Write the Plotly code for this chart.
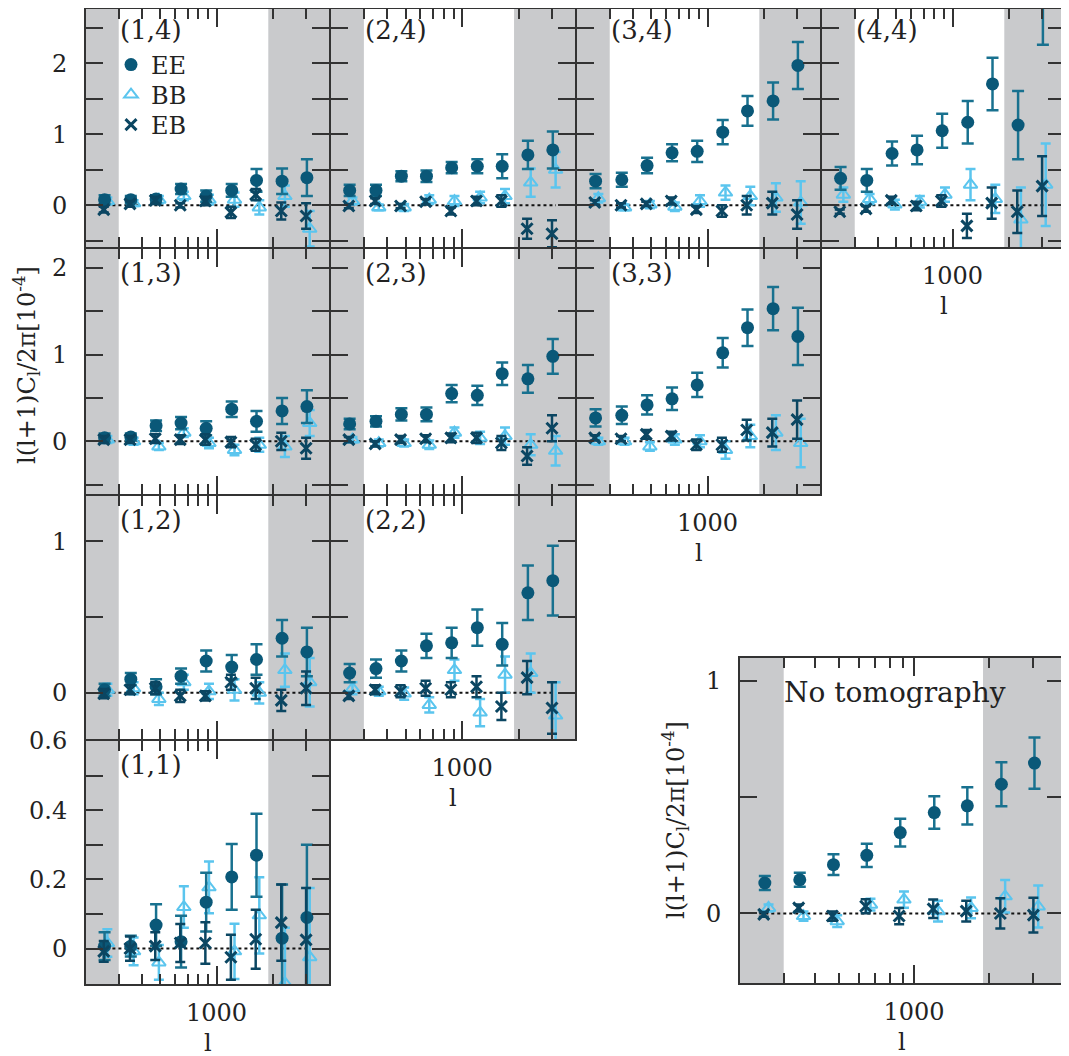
import math
import plotly.graph_objects as go

# the page body adds an 8 px margin, so the figure is drawn 8 px smaller and
# every reference pixel position is shifted by OFF
OFF = 8
W, H = 1069 - OFF, 1056 - OFF
FONT = "DejaVu Serif"

# multipole bin centres
ell = [252, 348, 475, 646, 880, 1205, 1635, 2240, 3040]

# ---- panel (1,4)
ee_14 = [0.08, 0.08, 0.09, 0.23, 0.13, 0.21, 0.35, 0.34, 0.39]
ee_err_14 = [0.06, 0.05, 0.05, 0.07, 0.08, 0.09, 0.16, 0.18, 0.26]
bb_14 = [0.06, 0.03, 0.08, 0.13, 0.08, 0.08, -0.03, 0.13, -0.33]
bb_err_14 = [0.05, 0.04, 0.05, 0.06, 0.07, 0.10, 0.10, 0.15, 0.25]
eb_14 = [-0.06, 0.02, 0.07, 0.0, 0.06, -0.10, 0.15, -0.08, -0.15]
eb_err_14 = [0.04, 0.04, 0.05, 0.03, 0.06, 0.08, 0.08, 0.12, 0.18]
# ---- panel (2,4)
ee_24 = [0.21, 0.21, 0.41, 0.41, 0.53, 0.55, 0.55, 0.71, 0.78]
ee_err_24 = [0.08, 0.08, 0.07, 0.08, 0.08, 0.10, 0.17, 0.20, 0.26]
bb_24 = [0.06, -0.03, -0.03, 0.08, 0.06, 0.11, 0.13, 0.32, 0.50]
bb_err_24 = [0.05, 0.04, 0.05, 0.06, 0.07, 0.08, 0.10, 0.20, 0.25]
eb_24 = [-0.01, 0.06, -0.01, 0.05, -0.08, 0.06, 0.06, -0.33, -0.40]
eb_err_24 = [0.03, 0.04, 0.03, 0.04, 0.05, 0.06, 0.08, 0.14, 0.19]
# ---- panel (3,4)
ee_34 = [0.34, 0.36, 0.56, 0.74, 0.76, 1.03, 1.33, 1.47, 1.97]
ee_err_34 = [0.10, 0.10, 0.11, 0.12, 0.15, 0.17, 0.21, 0.26, 0.33]
bb_34 = [0.10, -0.03, 0.01, -0.02, 0.06, 0.18, 0.13, 0.11, 0.04]
bb_err_34 = [0.06, 0.04, 0.05, 0.06, 0.08, 0.10, 0.13, 0.20, 0.30]
eb_34 = [0.04, 0.0, 0.02, 0.06, -0.06, -0.08, 0.0, 0.03, -0.13]
eb_err_34 = [0.03, 0.03, 0.03, 0.05, 0.05, 0.08, 0.13, 0.16, 0.20]
# ---- panel (4,4)
ee_44 = [0.38, 0.35, 0.73, 0.78, 1.05, 1.17, 1.71, 1.13, 2.95]
ee_err_44 = [0.16, 0.16, 0.17, 0.20, 0.24, 0.30, 0.37, 0.48, 0.69]
bb_44 = [0.15, 0.09, 0.01, 0.05, 0.15, 0.29, 0.09, -0.20, 0.29]
bb_err_44 = [0.10, 0.07, 0.07, 0.08, 0.10, 0.22, 0.20, 0.45, 0.58]
eb_44 = [-0.09, -0.05, 0.07, -0.01, 0.06, -0.29, 0.03, -0.09, 0.27]
eb_err_44 = [0.03, 0.04, 0.05, 0.06, 0.08, 0.17, 0.22, 0.30, 0.42]
# ---- panel (1,3)
ee_13 = [0.04, 0.05, 0.18, 0.21, 0.15, 0.37, 0.23, 0.35, 0.40]
ee_err_13 = [0.05, 0.04, 0.06, 0.07, 0.08, 0.09, 0.12, 0.15, 0.19]
bb_13 = [0.02, 0.0, -0.06, 0.10, -0.02, -0.10, -0.04, -0.06, 0.21]
bb_err_13 = [0.04, 0.04, 0.04, 0.05, 0.06, 0.06, 0.08, 0.12, 0.15]
eb_13 = [0.02, 0.02, 0.03, 0.02, 0.02, -0.01, -0.04, 0.0, -0.08]
eb_err_13 = [0.04, 0.04, 0.05, 0.05, 0.06, 0.06, 0.07, 0.10, 0.12]
# ---- panel (2,3)
ee_23 = [0.20, 0.23, 0.31, 0.31, 0.55, 0.53, 0.78, 0.72, 0.98]
ee_err_23 = [0.06, 0.06, 0.07, 0.08, 0.10, 0.11, 0.13, 0.16, 0.20]
bb_23 = [0.02, -0.02, -0.02, -0.04, 0.10, 0.04, 0.06, -0.04, -0.11]
bb_err_23 = [0.03, 0.04, 0.04, 0.05, 0.06, 0.07, 0.10, 0.12, 0.17]
eb_23 = [0.02, -0.03, 0.02, 0.03, 0.04, 0.04, -0.02, -0.17, 0.15]
eb_err_23 = [0.03, 0.03, 0.04, 0.04, 0.05, 0.06, 0.08, 0.10, 0.15]
# ---- panel (3,3)
ee_33 = [0.27, 0.30, 0.42, 0.49, 0.65, 1.02, 1.31, 1.53, 1.21]
ee_err_33 = [0.10, 0.10, 0.11, 0.13, 0.14, 0.17, 0.21, 0.25, 0.33]
bb_33 = [0.0, 0.0, -0.06, 0.02, 0.0, -0.10, 0.06, 0.10, -0.02]
bb_err_33 = [0.04, 0.04, 0.05, 0.06, 0.07, 0.10, 0.13, 0.20, 0.28]
eb_33 = [0.04, 0.03, 0.08, 0.06, -0.04, -0.04, 0.13, 0.10, 0.25]
eb_err_33 = [0.03, 0.03, 0.05, 0.05, 0.06, 0.08, 0.12, 0.16, 0.22]
# ---- panel (1,2)
ee_12 = [0.02, 0.09, 0.04, 0.11, 0.21, 0.17, 0.22, 0.36, 0.27]
ee_err_12 = [0.04, 0.04, 0.05, 0.05, 0.07, 0.08, 0.10, 0.12, 0.16]
bb_12 = [0.02, 0.03, -0.04, 0.07, 0.01, 0.02, 0.0, 0.15, 0.07]
bb_err_12 = [0.04, 0.04, 0.04, 0.05, 0.05, 0.07, 0.07, 0.11, 0.16]
eb_12 = [-0.005, 0.02, 0.03, -0.02, -0.02, 0.07, 0.03, -0.05, 0.03]
eb_err_12 = [0.03, 0.03, 0.04, 0.04, 0.03, 0.05, 0.07, 0.07, 0.11]
# ---- panel (2,2)
ee_22 = [0.13, 0.16, 0.21, 0.31, 0.33, 0.43, 0.32, 0.66, 0.74]
ee_err_22 = [0.06, 0.06, 0.07, 0.08, 0.10, 0.12, 0.14, 0.18, 0.23]
bb_22 = [0.03, 0.01, -0.005, -0.08, 0.15, -0.13, 0.12, 0.13, -0.15]
bb_err_22 = [0.04, 0.03, 0.04, 0.05, 0.07, 0.09, 0.12, 0.13, 0.22]
eb_22 = [-0.02, 0.02, 0.01, 0.03, 0.02, 0.04, -0.09, 0.10, -0.10]
eb_err_22 = [0.02, 0.03, 0.04, 0.05, 0.05, 0.07, 0.09, 0.11, 0.17]
# ---- panel (1,1)
ee_11 = [0.007, 0.007, 0.068, 0.02, 0.134, 0.207, 0.27, 0.03, 0.09]
ee_err_11 = [0.04, 0.03, 0.06, 0.075, 0.085, 0.095, 0.12, 0.155, 0.21]
bb_11 = [0.016, -0.008, -0.04, 0.12, 0.177, -0.008, 0.096, -0.10, -0.025]
bb_err_11 = [0.04, 0.04, 0.05, 0.06, 0.075, 0.08, 0.11, 0.16, 0.20]
eb_11 = [-0.008, 0.0, 0.007, 0.016, 0.016, -0.025, 0.027, 0.075, 0.025]
eb_err_11 = [0.03, 0.035, 0.04, 0.055, 0.06, 0.065, 0.085, 0.11, 0.15]
# ---- no tomography
ee_nt = [0.131, 0.145, 0.21, 0.25, 0.348, 0.434, 0.463, 0.556, 0.647]
ee_err_nt = [0.03, 0.03, 0.045, 0.05, 0.06, 0.07, 0.08, 0.095, 0.11]
bb_nt = [0.024, -0.011, -0.033, 0.038, 0.06, 0.01, 0.024, 0.074, 0.03]
bb_err_nt = [0.015, 0.02, 0.025, 0.025, 0.035, 0.045, 0.045, 0.07, 0.09]
eb_nt = [-0.004, 0.024, -0.011, 0.031, -0.011, 0.02, 0.01, 0.0, -0.007]
eb_err_nt = [0.01, 0.015, 0.02, 0.03, 0.035, 0.04, 0.045, 0.065, 0.075]

panel_data = {
    (1, 4): (ee_14, ee_err_14, bb_14, bb_err_14, eb_14, eb_err_14),
    (2, 4): (ee_24, ee_err_24, bb_24, bb_err_24, eb_24, eb_err_24),
    (3, 4): (ee_34, ee_err_34, bb_34, bb_err_34, eb_34, eb_err_34),
    (4, 4): (ee_44, ee_err_44, bb_44, bb_err_44, eb_44, eb_err_44),
    (1, 3): (ee_13, ee_err_13, bb_13, bb_err_13, eb_13, eb_err_13),
    (2, 3): (ee_23, ee_err_23, bb_23, bb_err_23, eb_23, eb_err_23),
    (3, 3): (ee_33, ee_err_33, bb_33, bb_err_33, eb_33, eb_err_33),
    (1, 2): (ee_12, ee_err_12, bb_12, bb_err_12, eb_12, eb_err_12),
    (2, 2): (ee_22, ee_err_22, bb_22, bb_err_22, eb_22, eb_err_22),
    (1, 1): (ee_11, ee_err_11, bb_11, bb_err_11, eb_11, eb_err_11),
    "nt": (ee_nt, ee_err_nt, bb_nt, bb_err_nt, eb_nt, eb_err_nt),
}

# ---- styling / geometry (in reference-image pixels)
EE_C, EE_ERR_C = "#0a5878", "#18718f"
BB_C = "#5bc5ee"
EB_C = "#0b4662"
GRAY = "#c9cacc"
AX_C = "#333333"
TXT_C = "#222222"
LW = 1.6
col_edges = [85, 330, 576, 821, 1066]
row_edges = {4: (8, 248), 3: (248, 495), 2: (495, 740), 1: (740, 985)}
nt_box = (739, 1065, 657, 984)
yranges = {4: [-0.59, 2.768], 3: [-0.61, 2.22], 2: [-0.306, 1.30], 1: [-0.103, 0.6005]}
ytick_major = {4: [0, 1, 2], 3: [0, 1, 2], 2: [0, 1], 1: [0, 0.2, 0.4, 0.6]}
ytick_text = {4: ["0", "1", "2"], 3: ["0", "1", "2"], 2: ["0", "1"], 1: ["0", "0.2", "0.4", "0.6"]}
ytick_minor = {4: [-0.5, 0.5, 1.5, 2.5], 3: [-0.5, 0.5, 1.5], 2: [0.5], 1: [0.1, 0.3, 0.5]}
xrange = [math.log10(200), math.log10(4000)]
gray_lo = (200, 300)
gray_hi = (1890, 4000)
minor_x = [300, 400, 500, 600, 700, 800, 900, 2000, 3000]


def frac_x(px):
    return (px - OFF) / W


def frac_y(py):
    return 1 - (py - OFF) / H


fig = go.Figure()
legend_common = dict(xanchor="left", yanchor="middle", bgcolor="rgba(0,0,0,0)",
                     font=dict(size=24, family=FONT, color=TXT_C), itemwidth=30)
layout = dict(
    width=W, height=H, autosize=False,
    margin=dict(l=0, r=0, t=0, b=0, pad=0, autoexpand=False),
    paper_bgcolor="white", plot_bgcolor="white",
    font=dict(family=FONT, size=24, color=TXT_C),
    showlegend=True,
    legend=dict(x=frac_x(111), y=frac_y(65), **legend_common),
    legend2=dict(x=frac_x(111), y=frac_y(95), **legend_common),
    legend3=dict(x=frac_x(111), y=frac_y(125), **legend_common),
)
shapes, annotations = [], []

order = [(1, 4), (2, 4), (3, 4), (4, 4), (1, 3), (2, 3), (3, 3), (1, 2), (2, 2), (1, 1), "nt"]
half = LW / 2  # axis lines are drawn just outside the domain: shrink so neighbours share one line

for k, key in enumerate(order, start=1):
    xa = "x" if k == 1 else f"x{k}"
    ya = "y" if k == 1 else f"y{k}"
    xname = "xaxis" if k == 1 else f"xaxis{k}"
    yname = "yaxis" if k == 1 else f"yaxis{k}"
    if key == "nt":
        x0, x1, y0, y1 = nt_box
        yr = [-0.3, 1.1]
        yt, ytt, ym = [0, 1], ["0", "1"], [0.5]
        show_y, show_x = True, True
    else:
        i, j = key
        x0, x1 = col_edges[i - 1], col_edges[i]
        y0, y1 = row_edges[j]
        yr = yranges[j]
        yt, ytt, ym = ytick_major[j], ytick_text[j], ytick_minor[j]
        show_y = (i == 1)
        show_x = (i == j)
    layout[xname] = dict(
        type="log", range=xrange,
        domain=[max(0, frac_x(x0 + half)), min(1, frac_x(x1 - half))], anchor=ya,
        showline=True, linecolor=AX_C, linewidth=LW, mirror="allticks",
        ticks="inside", ticklen=18, tickwidth=2, tickcolor=AX_C,
        tickmode="array", tickvals=[1000], ticktext=["1000"],
        showticklabels=show_x, ticklabelstandoff=6, automargin=False,
        tickfont=dict(family=FONT, size=24, color=TXT_C),
        minor=dict(tickmode="array", tickvals=minor_x, ticks="inside", ticklen=10,
                   tickwidth=2, tickcolor=AX_C, showgrid=False),
        showgrid=False, zeroline=False,
    )
    layout[yname] = dict(
        range=yr, domain=[max(0, frac_y(y1 - half)), min(1, frac_y(y0 + half))], anchor=xa,
        showline=True, linecolor=AX_C, linewidth=LW, mirror="allticks",
        ticks="inside", ticklen=17, tickwidth=2, tickcolor=AX_C,
        tickmode="array", tickvals=yt, ticktext=ytt,
        showticklabels=show_y, ticklabelstandoff=12, automargin=False,
        tickfont=dict(family=FONT, size=24, color=TXT_C),
        minor=dict(tickmode="array", tickvals=ym, ticks="inside", ticklen=17,
                   tickwidth=2, tickcolor=AX_C, showgrid=False),
        showgrid=False, zeroline=False,
    )
    # shaded excluded l ranges
    for lo, hi in (gray_lo, gray_hi):
        shapes.append(dict(type="rect", xref=xa, yref=f"{ya} domain", x0=lo, x1=hi,
                           y0=0, y1=1, fillcolor=GRAY, line=dict(width=0), layer="below"))
    # dotted zero line
    shapes.append(dict(type="line", xref=xa, yref=ya, x0=ell[0] * 0.95, x1=ell[-1] * 1.04,
                       y0=0, y1=0, line=dict(color="#111111", width=2, dash="dot"),
                       layer="below"))

    ee, ee_e, bb, bb_e, eb, eb_e = panel_data[key]
    first = (key == (1, 4))
    fig.add_trace(go.Scatter(
        x=[v * 1.035 for v in ell], y=bb, mode="markers", name="BB",
        xaxis=xa, yaxis=ya, showlegend=first, legend="legend2",
        marker=dict(symbol="triangle-up-open", size=12, color=BB_C, line=dict(width=2, color=BB_C)),
        error_y=dict(type="data", array=bb_e, color=BB_C, thickness=2.5, width=5),
    ))
    fig.add_trace(go.Scatter(
        x=ell, y=ee, mode="markers", name="EE",
        xaxis=xa, yaxis=ya, showlegend=first, legend="legend",
        marker=dict(symbol="circle", size=13, color=EE_C),
        error_y=dict(type="data", array=ee_e, color=EE_ERR_C, thickness=2.5, width=6),
    ))
    fig.add_trace(go.Scatter(
        x=[v * 0.99 for v in ell], y=eb, mode="markers", name="EB",
        xaxis=xa, yaxis=ya, showlegend=first, legend="legend3",
        marker=dict(symbol="x-thin-open", size=11, color=EB_C, line=dict(width=3, color=EB_C)),
        error_y=dict(type="data", array=eb_e, color=EB_C, thickness=2.5, width=5),
    ))

    # panel labels
    if key == "nt":
        annotations.append(dict(text="No tomography", xref="paper", yref="paper",
                                x=frac_x(782), y=frac_y(692), xanchor="left", yanchor="middle",
                                showarrow=False, font=dict(size=28, family=FONT, color=TXT_C)))
    else:
        top_px = 5 if j == 4 else row_edges[j][0]
        annotations.append(dict(text=f"({key[0]},{key[1]})", xref="paper", yref="paper",
                                x=frac_x(x0 + 33), y=frac_y(top_px + 25),
                                xanchor="left", yanchor="middle", showarrow=False,
                                font=dict(size=26, family=FONT, color=TXT_C)))
    if show_x:
        annotations.append(dict(text="l", xref="paper", yref="paper",
                                x=frac_x((x0 + x1) / 2), y=frac_y(y1 + 58),
                                xanchor="center", yanchor="middle", showarrow=False,
                                font=dict(size=24, family=FONT, color=TXT_C)))

ylabel = "l(l+1)C<sub>l</sub>/2π[10<sup>-4</sup>]"
annotations.append(dict(text=ylabel, xref="paper", yref="paper", x=frac_x(26), y=frac_y(365),
                        xanchor="center", yanchor="middle", textangle=-90, showarrow=False,
                        font=dict(size=24, family=FONT, color=TXT_C)))
annotations.append(dict(text=ylabel, xref="paper", yref="paper", x=frac_x(675), y=frac_y(820),
                        xanchor="center", yanchor="middle", textangle=-90, showarrow=False,
                        font=dict(size=24, family=FONT, color=TXT_C)))

layout["shapes"] = shapes
layout["annotations"] = annotations
fig.update_layout(**layout)
fig.write_html("out.html")
